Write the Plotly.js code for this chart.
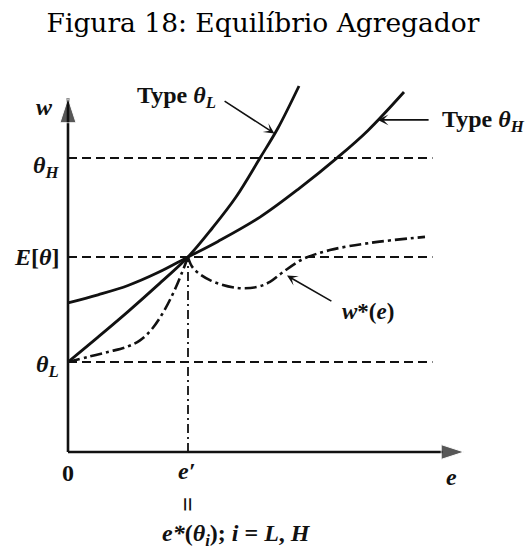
<!DOCTYPE html>
<html>
<head>
<meta charset="utf-8">
<script src="https://cdn.plot.ly/plotly-3.0.1.min.js"></script>
<style>
  html, body { margin: 0; padding: 0; background: #fff; }
  #chart { width: 526px; height: 549px; }
</style>
</head>
<body>
<div id="chart"></div>
<script>
// Reference levels of the wage axis and the pooled effort level
const thetaL = 3.0;
const expTheta = 6.5;
const thetaH = 9.8;
const ePrime = 4.0;
const guideLevels = [thetaL, expTheta, thetaH];
const guideEnd = 12.15;

// Axis extents
const axisEndE = 13.2;
const axisEndW = 11.8;

// Indifference curve of the low type (theta_L)
const typeLE = [0, 1, 2, 3, 4, 4.8, 5.6, 6.4, 7.0, 7.7];
const typeLW = [3.0, 3.83, 4.68, 5.57, 6.5, 7.45, 8.5, 9.8, 10.8, 12.2];

// Indifference curve of the high type (theta_H)
const typeHE = [0, 1, 2, 3, 4, 5, 6.4, 7.7, 9.0, 10.0, 11.2];
const typeHW = [4.97, 5.24, 5.55, 5.98, 6.5, 7.02, 7.83, 8.78, 9.83, 10.72, 12.0];

// Equilibrium wage schedule w*(e): left branch up to e', right branch after it
const wStarLeftE = [0, 0.7, 1.4, 2.0, 2.4, 2.8, 3.2, 3.6, 4.0];
const wStarLeftW = [3.0, 3.18, 3.35, 3.52, 3.72, 4.1, 4.7, 5.5, 6.5];
const wStarRightE = [4.0, 4.17, 4.73, 5.63, 6.3, 6.73, 7.17, 7.83, 8.73, 10.07, 11.9];
const wStarRightW = [6.5, 6.13, 5.73, 5.47, 5.5, 5.67, 6.0, 6.43, 6.73, 6.97, 7.17];

const ink = '#111';
const serif = 'Liberation Serif, Times New Roman, serif';

const traces = [];

// Dashed horizontal guides at theta_L, E[theta], theta_H
guideLevels.forEach(function (lvl) {
  traces.push({
    x: [0, guideEnd], y: [lvl, lvl], mode: 'lines',
    line: { color: ink, width: 1.8, dash: '9px,5px' }, hoverinfo: 'skip'
  });
});

// Dashed vertical guide at e'
traces.push({
  x: [ePrime, ePrime], y: [0, expTheta], mode: 'lines',
  line: { color: ink, width: 1.8, dash: '9px,4px,2px,4px' }, hoverinfo: 'skip'
});

// Indifference curves
traces.push({
  x: typeLE, y: typeLW, mode: 'lines',
  line: { color: ink, width: 2.8, shape: 'spline' }, hoverinfo: 'skip'
});
traces.push({
  x: typeHE, y: typeHW, mode: 'lines',
  line: { color: ink, width: 2.8, shape: 'spline' }, hoverinfo: 'skip'
});

// w*(e) schedule, dash-dot
[[wStarLeftE, wStarLeftW], [wStarRightE, wStarRightW]].forEach(function (br) {
  traces.push({
    x: br[0], y: br[1], mode: 'lines',
    line: { color: ink, width: 2.6, dash: '12px,4px,3px,4px', shape: 'spline' },
    hoverinfo: 'skip'
  });
});

// Axes with arrowheads
traces.push({
  x: [0, axisEndE], y: [0, 0], mode: 'lines+markers',
  line: { color: ink, width: 2.6 },
  marker: { symbol: 'arrow', size: [0, 24], color: ink, angleref: 'previous' },
  cliponaxis: false, hoverinfo: 'skip'
});
traces.push({
  x: [0, 0], y: [0, axisEndW], mode: 'lines+markers',
  line: { color: ink, width: 2.6 },
  marker: { symbol: 'arrow', size: [0, 26], color: ink, angleref: 'previous' },
  cliponaxis: false, hoverinfo: 'skip'
});

function label(x, y, text, extra) {
  return Object.assign({
    x: x, y: y, xref: 'x', yref: 'y', text: text, showarrow: false,
    font: { family: serif, size: 24, color: ink, weight: 'bold' }
  }, extra || {});
}

function pointer(x, y, ax, ay) {
  return {
    x: x, y: y, ax: ax, ay: ay, xref: 'x', yref: 'y', axref: 'x', ayref: 'y',
    text: '', showarrow: true, arrowhead: 3, arrowsize: 1.1, arrowwidth: 1.6,
    arrowcolor: ink
  };
}

const annotations = [
  label(0, axisEndW, '<i>w</i>', { xshift: -24, yshift: -9 }),
  label(0, thetaH, '<i>θ<sub>H</sub></i>', { xanchor: 'right', xshift: -7, yshift: -9 }),
  label(0, expTheta, '<i>E</i>[<i>θ</i>]', { xanchor: 'right', xshift: -7 }),
  label(0, thetaL, '<i>θ<sub>L</sub></i>', { xanchor: 'right', xshift: -7, yshift: -4 }),
  label(0, 0, '0', { yshift: -21 }),
  label(ePrime, 0, '<i>e′</i>', { yshift: -19, xshift: -2 }),
  label(ePrime, 0, '=', { textangle: 90, yshift: -52, font: { family: serif, size: 26, color: ink, weight: 'bold' } }),
  label(ePrime, 0, '<i>e*</i>(<i>θ<sub>i</sub></i>); <i>i</i> = <i>L</i>, <i>H</i>', { xanchor: 'left', xshift: -28, yshift: -83 }),
  label(axisEndE, 0, '<i>e</i>', { xshift: -13, yshift: -25 }),
  label(2.23, 11.83, 'Type <i>θ<sub>L</sub></i>', { xanchor: 'left' }),
  label(12.4, 11.03, 'Type <i>θ<sub>H</sub></i>', { xanchor: 'left' }),
  label(10.0, 4.67, '<i>w</i>*(<i>e</i>)', { font: { family: serif, size: 23, color: ink, weight: 'bold' } }),
  pointer(6.88, 10.62, 5.17, 11.73),
  pointer(10.33, 11.07, 12.07, 11.07),
  pointer(7.3, 5.88, 8.83, 5.0)
];

const layout = {
  width: 526, height: 549,
  margin: { l: 56, r: 56, t: 80, b: 85 },
  paper_bgcolor: '#fff', plot_bgcolor: '#fff',
  showlegend: false,
  title: {
    text: 'Figura 18: Equilíbrio Agregador',
    font: { family: 'DejaVu Serif, serif', size: 26.5, color: '#000' },
    x: 0.5, xanchor: 'center', xref: 'paper',
    y: 1 - 23 / 549, yanchor: 'middle'
  },
  xaxis: { range: [-0.4, 13.4], visible: false, fixedrange: true },
  yaxis: { range: [-0.4, 12.4], visible: false, fixedrange: true },
  annotations: annotations
};

Plotly.newPlot('chart', traces, layout, { staticPlot: true, displayModeBar: false });
</script>
</body>
</html>
